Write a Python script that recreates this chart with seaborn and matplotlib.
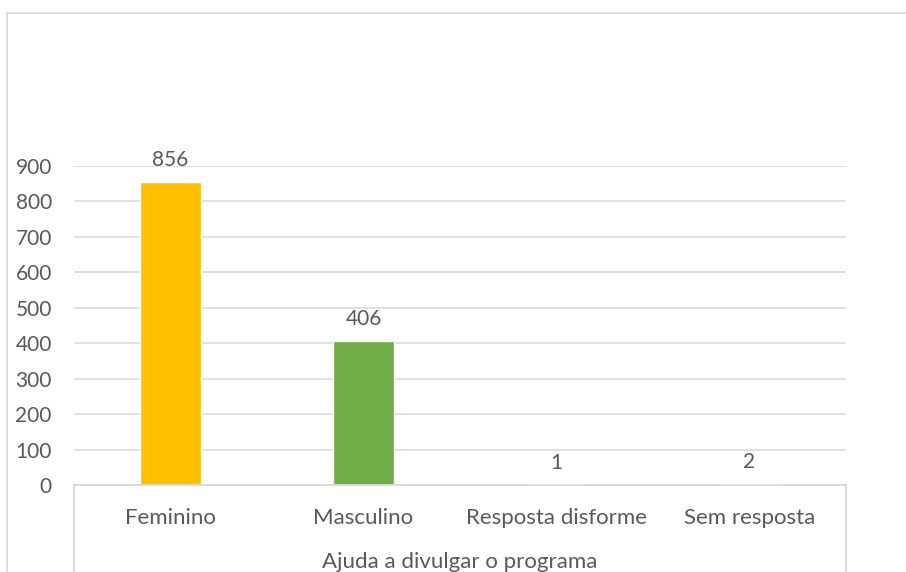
import matplotlib
matplotlib.use("Agg")
import matplotlib.pyplot as plt
from matplotlib.lines import Line2D
import seaborn as sns
import pandas as pd

# Chart data
categories = ["Feminino", "Masculino", "Resposta disforme", "Sem resposta"]
counts = [856, 406, 1, 2]
bar_colors = ["#FFC000", "#70AD47", "#A5A5A5", "#D6DBCB"]
y_ticks = [0, 100, 200, 300, 400, 500, 600, 700, 800, 900]
group_label = "Ajuda a divulgar o programa"

sns.set_theme(style="white")
plt.rcParams["font.family"] = ["Lato", "DejaVu Sans"]

TEXT = "#595959"
LINE = "#D9D9D9"
W, H = 906, 572

fig = plt.figure(figsize=(W / 100, H / 100), dpi=100)
fig.patch.set_facecolor("white")

# plot area in pixel terms
left, right, y0, y900 = 74, 846, 485, 166
ax = fig.add_axes([left / W, (H - y0) / H, (right - left) / W, (y0 - y900) / H])

df = pd.DataFrame({"categoria": categories, "total": counts})
sns.barplot(data=df, x="categoria", y="total", hue="categoria",
            palette=bar_colors, width=0.32, legend=False, ax=ax,
            saturation=1)

ax.set_ylim(0, 900)
ax.set_xlim(-0.5, len(categories) - 0.5)
ax.set_yticks(y_ticks)
ax.set_yticklabels([str(v) for v in y_ticks])
ax.yaxis.grid(True, color=LINE, linewidth=1.1)
ax.set_axisbelow(True)
for side in ["left", "right", "top"]:
    ax.spines[side].set_visible(False)
ax.spines["bottom"].set_color(LINE)
ax.spines["bottom"].set_linewidth(1.3)
ax.tick_params(axis="y", length=0, pad=16, labelsize=15, labelcolor=TEXT)
ax.tick_params(axis="x", length=0, pad=16.5, labelsize=16, labelcolor=TEXT)
ax.set_xlabel("")
ax.set_ylabel("")

for cont in ax.containers:
    ax.bar_label(cont, labels=[f"{int(v)}" for v in cont.datavalues],
                 padding=8.5, fontsize=15, color=TEXT)

# box around the multi-level category axis
for xa in (0, 1):
    ax.add_line(Line2D([xa, xa], [0, -0.4], transform=ax.transAxes,
                       color=LINE, linewidth=1.3, clip_on=False))
ax.text(0.5, -(562 - y0) / (y0 - y900), group_label, transform=ax.transAxes,
        ha="center", va="center", fontsize=16, color=TEXT)

# chart area border
fig.add_artist(Line2D([7 / W, 7 / W], [0, 1 - 13 / H], transform=fig.transFigure,
                      color=LINE, linewidth=1.3))
fig.add_artist(Line2D([7 / W, 1], [1 - 13 / H, 1 - 13 / H], transform=fig.transFigure,
                      color=LINE, linewidth=1.3))

fig.savefig("out.png", dpi=100)
